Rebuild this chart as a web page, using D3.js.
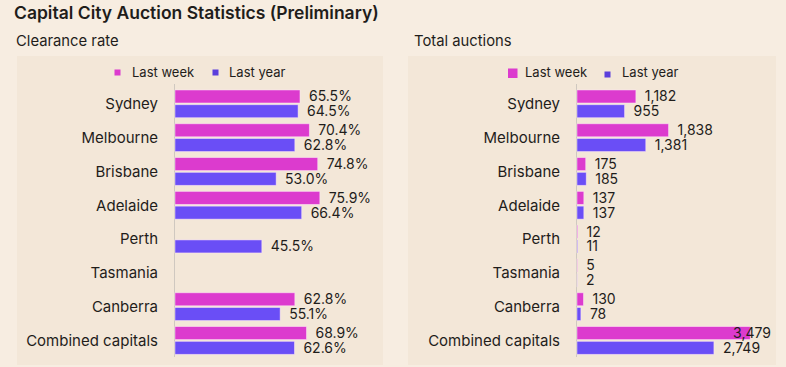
<!DOCTYPE html>
<html><head><meta charset="utf-8">
<script src="https://cdn.jsdelivr.net/npm/d3@7"></script>
<style>
html,body{margin:0;padding:0;background:#f7ede1;}
svg{display:block;font-family:Inter,"Noto Sans",sans-serif;}
</style></head>
<body>
<svg id="c" width="786" height="367"></svg>
<script>
const categories = ["Sydney","Melbourne","Brisbane","Adelaide","Perth","Tasmania","Canberra","Combined capitals"];
const seriesNames = ["Last week","Last year"];
const clearanceLastWeek = [65.5, 70.4, 74.8, 75.9, null, null, 62.8, 68.9];
const clearanceLastYear = [64.5, 62.8, 53.0, 66.4, 45.5, null, 55.1, 62.6];
const totalLastWeek = [1182, 1838, 175, 137, 12, 5, 130, 3479];
const totalLastYear = [955, 1381, 185, 137, 11, 2, 78, 2749];

const colors = {"Last week":"#dc3bce","Last year":"#6a4ef6"};
const svg = d3.select("#c");
const textColor = "#1f1d1b";

svg.append("rect").attr("width",786).attr("height",367).attr("fill","#f7ede1");
svg.append("text").attr("x",14).attr("y",19).attr("font-size",17.5).attr("font-weight",600)
  .attr("fill",textColor).text("Capital City Auction Statistics (Preliminary)");

const y = d3.scaleBand().domain(categories).range([86.96, 86.96+8*33.8]).paddingInner(0.18).paddingOuter(0.09);
const ySub = d3.scaleBand().domain(seriesNames).range([0, y.bandwidth()]).paddingInner(0.12);

function panel(opts){
  const g = svg.append("g");
  g.append("rect").attr("x",opts.px).attr("y",56).attr("width",opts.pw).attr("height",309).attr("fill","#f3e7d8");
  g.append("text").attr("x",opts.tx).attr("y",46).attr("font-size",14.8).attr("fill",textColor).text(opts.title);
  // legend
  opts.legend.forEach(l=>{
    g.append("rect").attr("x",l.sx).attr("y",l.sy).attr("width",l.s).attr("height",l.s).attr("fill",l.c);
    g.append("text").attr("x",l.tx).attr("y",72.5).attr("dy","0.35em").attr("font-size",13).attr("fill",textColor).text(l.name);
  });
  const x = d3.scaleLinear().domain(opts.domain).range([opts.x0, opts.x0+opts.width]);
  g.append("line").attr("x1",opts.x0-0.5).attr("x2",opts.x0-0.5).attr("y1",84).attr("y2",357)
    .attr("stroke","#cfc8c0").attr("stroke-width",1);
  categories.forEach((cat,i)=>{
    g.append("text").attr("x",opts.x0-17).attr("y",y(cat)+y.bandwidth()/2).attr("dy","0.35em")
      .attr("text-anchor","end").attr("font-size",15).attr("fill",textColor).text(cat);
    seriesNames.forEach((s,j)=>{
      const v = opts.values[j][i];
      if(v==null) return;
      const by = y(cat)+ySub(s);
      g.append("rect").attr("x",x(0)).attr("y",by).attr("width",Math.max(0,x(v)-x(0))).attr("height",ySub.bandwidth())
        .attr("fill",colors[s]).attr("stroke","rgba(255,230,250,0.6)").attr("stroke-width",0.8);
      const t = g.append("text").attr("x",x(v)+9).attr("y",by+ySub.bandwidth()/2).attr("dy","0.35em")
        .attr("font-size",14).attr("fill",textColor).text(opts.fmt(v));
      const w = t.node().getComputedTextLength();
      if(x(v)+9+w > opts.maxX) t.attr("x", opts.maxX - w);
    });
  });
}

panel({px:17,pw:366,tx:16,title:"Clearance rate",x0:175,width:190.8,domain:[0,100],
  values:[clearanceLastWeek,clearanceLastYear],fmt:v=>d3.format(".1f")(v)+"%",maxX:378,
  legend:[{name:"Last week",c:colors["Last week"],sx:114.5,sy:69.5,s:6,tx:132},
          {name:"Last year",c:"#5b3fdc",sx:212.5,sy:69.5,s:6,tx:229}]});
panel({px:408,pw:368,tx:414,title:"Total auctions",x0:577,width:174.3,domain:[0,3500],
  values:[totalLastWeek,totalLastYear],fmt:d3.format(","),maxX:771,
  legend:[{name:"Last week",c:colors["Last week"],sx:508,sy:68.5,s:9.5,tx:525},
          {name:"Last year",c:"#5b3fdc",sx:604.5,sy:71.5,s:6,tx:622}]});
</script>
</body></html>
